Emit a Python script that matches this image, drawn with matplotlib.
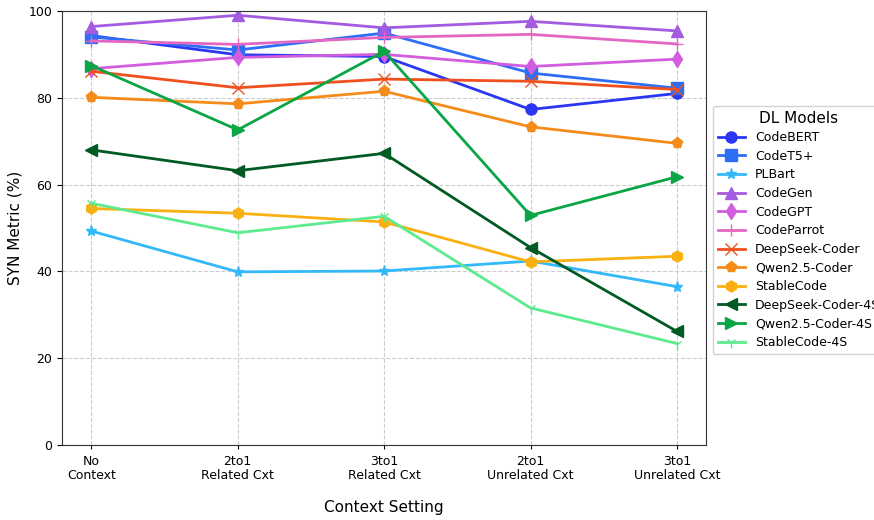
"""
SYN metric of DL models across context settings.

"""
import matplotlib
matplotlib.use('Agg')
import matplotlib.pyplot as plt

settings = ['No\nContext', '2to1\nRelated Cxt', '3to1\nRelated Cxt',
            '2to1\nUnrelated Cxt', '3to1\nUnrelated Cxt']

codebert = [94.3, 89.9, 89.5, 77.3, 81.0]
codet5p = [94.0, 91.0, 94.9, 85.7, 82.2]
plbart = [49.3, 39.9, 40.1, 42.4, 36.5]
codegen = [96.4, 99.0, 96.1, 97.6, 95.4]
codegpt = [86.7, 89.3, 90.0, 87.2, 88.9]
codeparrot = [93.1, 92.3, 93.9, 94.6, 92.4]
deepseek = [86.1, 82.3, 84.3, 83.8, 81.9]
qwen = [80.1, 78.6, 81.5, 73.3, 69.5]
stablecode = [54.5, 53.4, 51.4, 42.2, 43.5]
deepseek_4s = [68.0, 63.2, 67.2, 45.5, 26.2]
qwen_4s = [87.4, 72.6, 90.7, 52.9, 61.8]
stablecode_4s = [55.7, 48.9, 52.7, 31.6, 23.4]

models = [
    ('CodeBERT', codebert, '#2b36f2', 'o'),
    ('CodeT5+', codet5p, '#2e6ef5', 's'),
    ('PLBart', plbart, '#33b8fa', '*'),
    ('CodeGen', codegen, '#a35ce0', '^'),
    ('CodeGPT', codegpt, '#d25ddf', 'd'),
    ('CodeParrot', codeparrot, '#e468c3', '+'),
    ('DeepSeek-Coder', deepseek, '#f0501e', 'x'),
    ('Qwen2.5-Coder', qwen, '#f58b19', 'p'),
    ('StableCode', stablecode, '#fbb012', 'h'),
    ('DeepSeek-Coder-4S', deepseek_4s, '#005a23', '<'),
    ('Qwen2.5-Coder-4S', qwen_4s, '#0aa545', '>'),
    ('StableCode-4S', stablecode_4s, '#5eea8e', '1'),
]

fig = plt.figure(figsize=(8.74, 5.2), dpi=100)
ax = fig.add_axes([0.071, 0.144, 0.737, 0.835])

x = list(range(len(settings)))
for name, vals, color, marker in models:
    ax.plot(x, vals, color=color, marker=marker, linestyle='-',
            linewidth=2, markersize=8, label=name)

ax.set_xlim(-0.2, 4.2)
ax.set_ylim(0, 100)
ax.set_xticks(x)
ax.set_xticklabels(settings, fontsize=9, linespacing=1.1)
ax.tick_params(axis='x', length=3, pad=4)
ax.tick_params(axis='y', labelsize=9)
ax.grid(True, linestyle='--', color='#cccccc', linewidth=0.8)
ax.set_axisbelow(True)
for s in ax.spines.values():
    s.set_color('#333333')

ax.set_xlabel('Context Setting', fontsize=11, labelpad=13)
ax.set_ylabel('SYN Metric (%)', fontsize=11)

ax.legend(title='DL Models', loc='upper left', bbox_to_anchor=(1.01, 0.782),
          borderaxespad=0, fontsize=9, title_fontsize=11, framealpha=0.9,
          labelspacing=0.45, handlelength=2.2)

fig.savefig('out.png', dpi=100)
